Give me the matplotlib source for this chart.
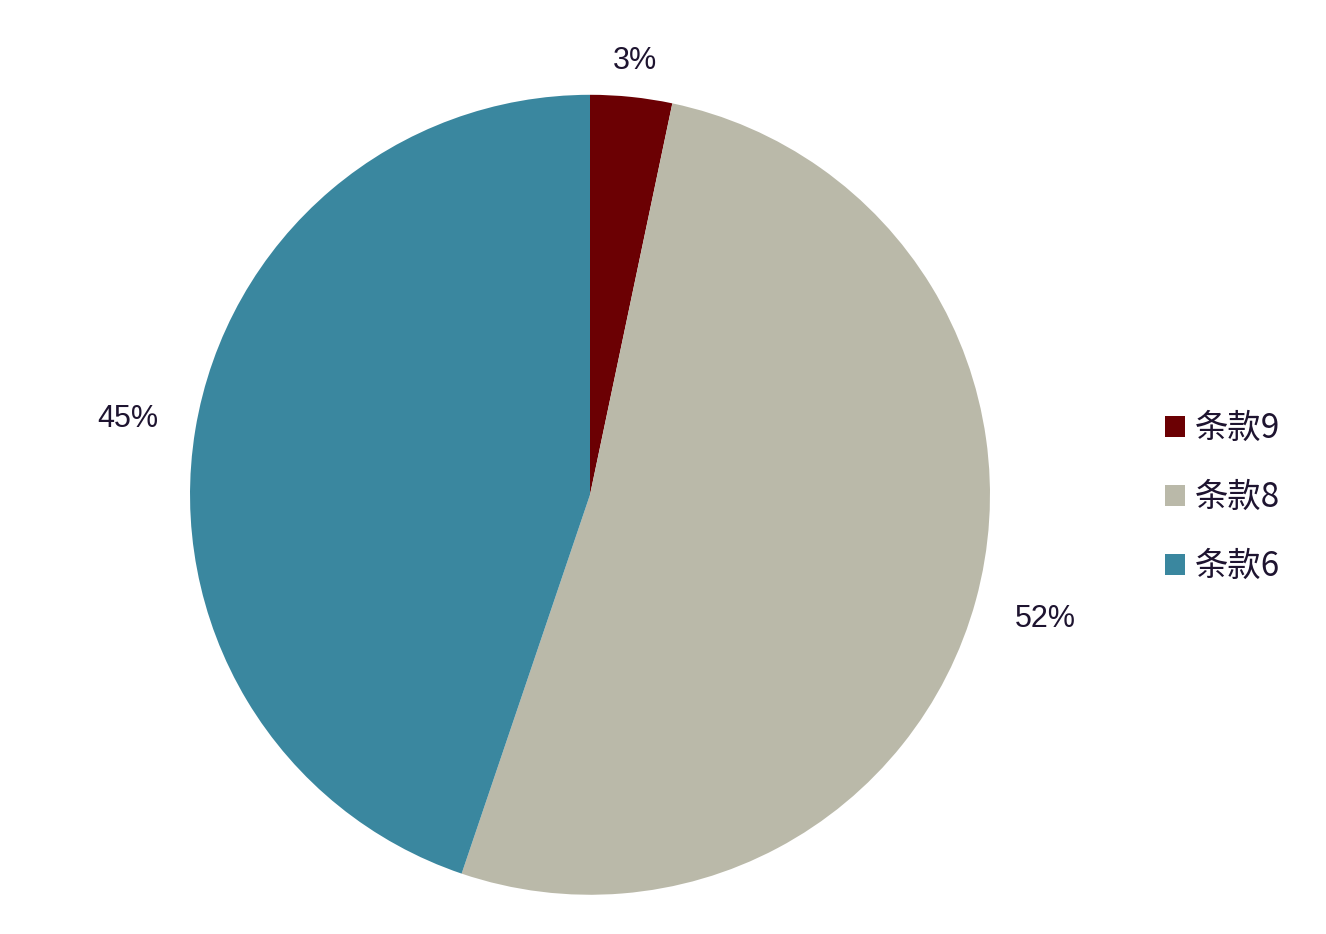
import matplotlib
matplotlib.use("Agg")
import matplotlib.pyplot as plt
import numpy as np

plt.rcParams['font.family'] = ['Noto Sans CJK SC', 'DejaVu Sans']

labels = ['条款9', '条款8', '条款6']
values = [3.3, 51.9, 44.8]
colors = ['#6B0003', '#BAB9A9', '#3A879F']
text_color = '#1E1430'
label_dist = [1.09, 1.18, 1.17]

fig = plt.figure(figsize=(13.26, 9.34), dpi=100)
ax = fig.add_axes([0.1433, 0.042, 0.6033, 0.8565])
wedges, texts, autotexts = ax.pie(
    values, colors=colors, startangle=90, counterclock=False,
    autopct='%.0f%%', pctdistance=1.15, radius=1.0,
    textprops={'fontsize': 22, 'color': text_color, 'family': ['Liberation Sans', 'DejaVu Sans']},
)
for w, t, d in zip(wedges, autotexts, label_dist):
    ang = np.deg2rad((w.theta1 + w.theta2) / 2)
    t.set_position((d * np.cos(ang), d * np.sin(ang)))
ax.set_xlim(-1, 1)
ax.set_ylim(-1, 1)
ax.set_aspect('equal')

leg = fig.legend(wedges, labels, loc='center left', bbox_to_anchor=(0.856, 0.467),
                 frameon=False, handlelength=0.6, handleheight=0.6,
                 labelspacing=1.02, handletextpad=0.3,
                 prop={'family': ['Noto Sans CJK SC', 'DejaVu Sans'], 'size': 24})
for t in leg.get_texts():
    t.set_color(text_color)

fig.savefig('out.png', dpi=100, facecolor='white')
